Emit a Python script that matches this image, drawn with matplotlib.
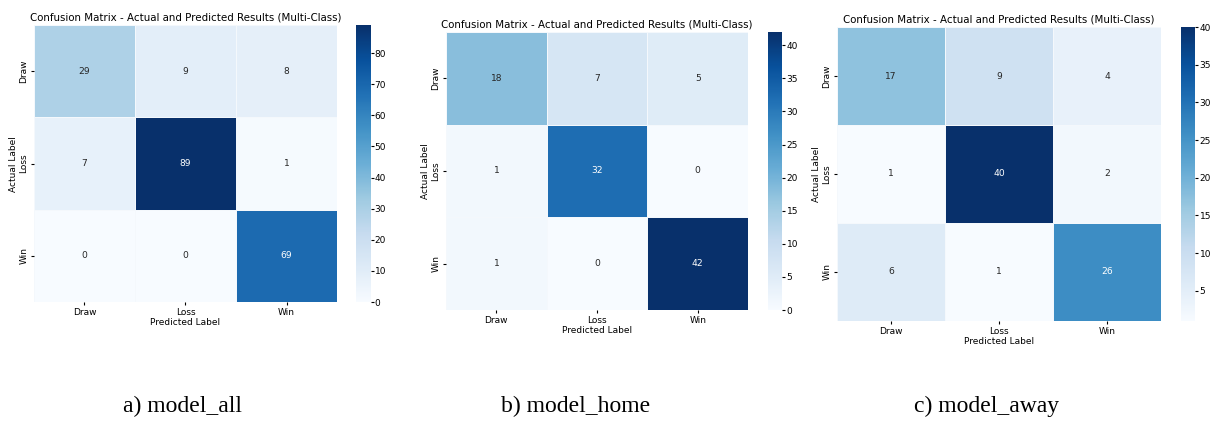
import numpy as np
import matplotlib
matplotlib.use('Agg')
import matplotlib.pyplot as plt
import seaborn as sns

# class labels and confusion matrices for the three models
labels = ['Draw', 'Loss', 'Win']
cm_all = [[29, 9, 8],
          [7, 89, 1],
          [0, 0, 69]]
cm_home = [[18, 7, 5],
           [1, 32, 0],
           [1, 0, 42]]
cm_away = [[17, 9, 4],
           [1, 40, 2],
           [6, 1, 26]]
captions = ['a) model_all', 'b) model_home', 'c) model_away']

fig = plt.figure(figsize=(12.14, 4.26), dpi=100)

# [heatmap axes], [colorbar axes] in figure fractions
boxes = [
    ([0.028, 0.291, 0.2496, 0.650], [0.2932, 0.291, 0.0120, 0.650]),
    ([0.3674, 0.2723, 0.2488, 0.6526], [0.6326, 0.2723, 0.0118, 0.6526]),
    ([0.6895, 0.2465, 0.2668, 0.6901], [0.9728, 0.2465, 0.0118, 0.6901]),
]
caption_x = [0.150, 0.474, 0.813]

for cm, (ax_box, cb_box), cap, cx in zip([cm_all, cm_home, cm_away], boxes, captions, caption_x):
    ax = fig.add_axes(ax_box)
    cax = fig.add_axes(cb_box)
    sns.heatmap(np.array(cm), annot=True, fmt='d', cmap='Blues', ax=ax, cbar_ax=cax,
                xticklabels=labels, yticklabels=labels, linewidths=0.4, linecolor='#f4f8fc',
                annot_kws={'fontsize': 6.6})
    ax.set_title('Confusion Matrix - Actual and Predicted Results (Multi-Class)', fontsize=7.4, pad=3)
    ax.set_xlabel('Predicted Label', fontsize=6.5, labelpad=1)
    ax.set_ylabel('Actual Label', fontsize=6.5, labelpad=1)
    ax.tick_params(labelsize=6.5, length=2, pad=2)
    cax.tick_params(labelsize=6.5, length=2, pad=1)
    for spine in cax.spines.values():
        spine.set_visible(False)
    fig.text(cx, 0.045, cap, ha='center', va='center', fontsize=17, family='Liberation Serif')

fig.savefig('out.png', dpi=100)
